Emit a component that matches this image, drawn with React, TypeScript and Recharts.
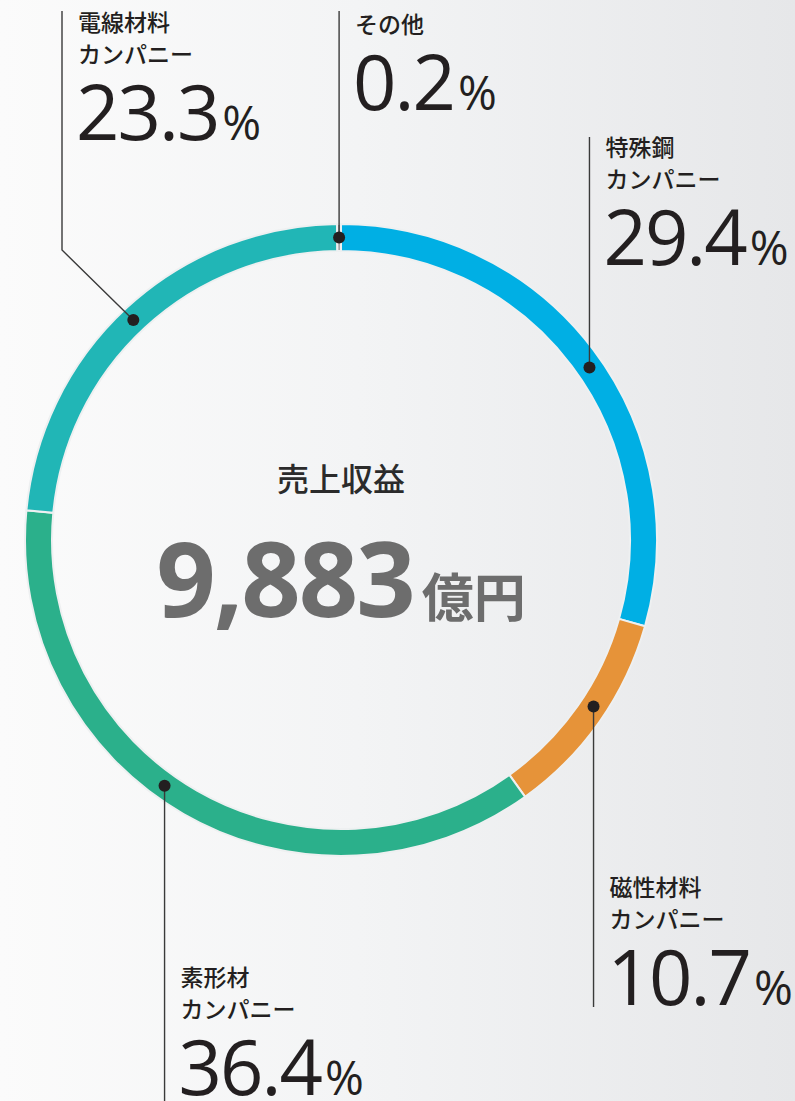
import { Cell, Pie, PieChart } from 'recharts';

const segments = ['特殊鋼', '磁性材料', '素形材', '電線材料', 'その他'];
const shares = [29.4, 10.7, 36.4, 23.3, 0.2];
const hasCompanySuffix = [true, true, true, true, false];
const sliceColors = ['#00afe4', '#e69339', '#2bb08b', '#21b6b6', '#a3a4a6'];
const revenueLabel = '売上収益';
const revenueValue = '9,883';
const revenueUnit = '億円';

const data = segments.map((name, i) => ({ name, value: shares[i] }));

// where each callout goes (nudge = degrees off the slice middle)
const callouts = [
  { nudge: -2.3, endY: 137, elbow: null as null | [number, number], baseline: 156 },
  { nudge: 1.7, endY: 1007, elbow: null, baseline: 896 },
  { nudge: -5.8, endY: 1101, elbow: null, baseline: 986 },
  { nudge: 0.7, endY: 11, elbow: [62, 250] as [number, number], baseline: 31 },
  { nudge: 0, endY: 11, elbow: null, baseline: 33 },
];

const RAD = Math.PI / 180;
const jpFont = '"Noto Sans CJK JP", "Noto Sans", sans-serif';
const numFont = '"Open Sans", "Noto Sans", sans-serif';

const renderCenter = (cx: number, cy: number) => (
  <g>
    <text x={cx} y={cy - 49} textAnchor="middle" fontFamily={jpFont} fontWeight={500} fontSize={32} fill="#2b2b2b">
      {revenueLabel}
    </text>
    <text x={cx} y={cy + 77} textAnchor="middle" fill="#6d6d6d">
      <tspan fontFamily={numFont} fontWeight={700} fontSize={104} letterSpacing={-2}>
        {revenueValue}
      </tspan>
      <tspan fontFamily={jpFont} fontWeight={700} fontSize={52} dx={8}>
        {revenueUnit}
      </tspan>
    </text>
  </g>
);

const renderCallout = (props: any) => {
  const { cx, cy, midAngle, innerRadius, outerRadius, index } = props;
  const c = callouts[index];
  const a = (midAngle + c.nudge) * RAD;
  const r = (innerRadius + outerRadius) / 2;
  const dotX = cx + r * Math.cos(a);
  const dotY = cy - r * Math.sin(a);
  const lineX = c.elbow ? c.elbow[0] : dotX;
  const points = c.elbow
    ? `${dotX},${dotY} ${c.elbow[0]},${c.elbow[1]} ${lineX},${c.endY}`
    : `${dotX},${dotY} ${lineX},${c.endY}`;
  const tx = lineX + 16;
  const twoLines = hasCompanySuffix[index];
  const numY = c.baseline + (twoLines ? 109 : 77);
  return (
    <g key={`callout-${index}`}>
      {index === 0 && renderCenter(cx, cy)}
      <polyline points={points} fill="none" stroke="#3a3a3a" strokeWidth={1.4} />
      <circle cx={dotX} cy={dotY} r={6} fill="#231f20" />
      <text x={tx} y={c.baseline} fontFamily={jpFont} fontWeight={500} fontSize={23} fill="#231f20">
        {segments[index]}
      </text>
      {twoLines && (
        <text x={tx} y={c.baseline + 32} fontFamily={jpFont} fontWeight={500} fontSize={23} fill="#231f20">
          カンパニー
        </text>
      )}
      <text x={tx - 2} y={numY} fontFamily={numFont} fill="#231f20">
        <tspan fontSize={76} letterSpacing={-2}>
          {shares[index].toFixed(1)}
        </tspan>
        <tspan fontSize={47} dx={4}>
          %
        </tspan>
      </text>
    </g>
  );
};

export default function App() {
  return (
    <div
      style={{
        position: 'absolute',
        top: 0,
        left: 0,
        width: 795,
        height: 1101,
        background: 'linear-gradient(90deg, #fbfbfb 0%, #f3f4f5 45%, #e6e7e9 100%)',
      }}
    >
      <PieChart width={795} height={1101} margin={{ top: 0, right: 0, bottom: 0, left: 0 }}>
        <Pie
          data={data}
          dataKey="value"
          nameKey="name"
          cx={341}
          cy={540}
          innerRadius={289}
          outerRadius={316}
          startAngle={90}
          endAngle={-270}
          stroke="#eef0f1"
          strokeWidth={2}
          label={renderCallout}
          labelLine={false}
          isAnimationActive={false}
        >
          {data.map((d, i) => (
            <Cell key={d.name} fill={sliceColors[i]} />
          ))}
        </Pie>
      </PieChart>
    </div>
  );
}
